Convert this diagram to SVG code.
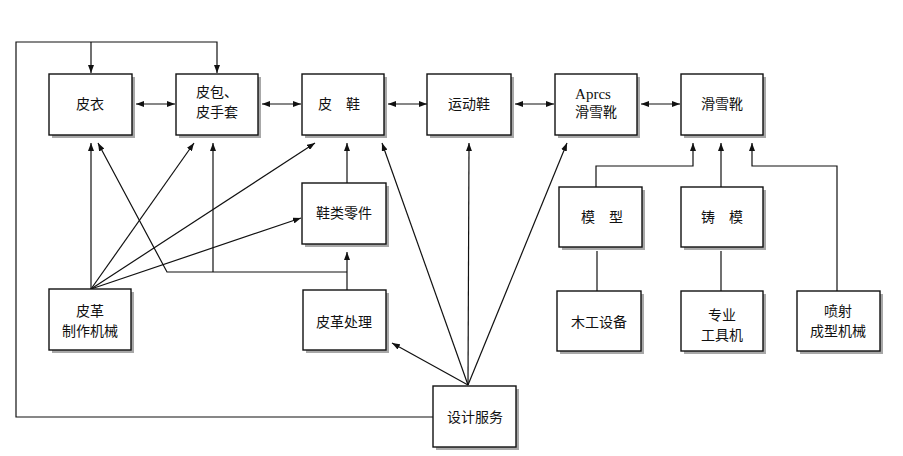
<svg xmlns="http://www.w3.org/2000/svg" width="903" height="456" viewBox="0 0 903 456">
<defs>
<marker id="ah" viewBox="0 0 8 6" refX="8" refY="3" markerWidth="8" markerHeight="6" markerUnits="userSpaceOnUse" orient="auto-start-reverse">
<path d="M0,0 L8,3 L0,6 z" fill="#111"/>
</marker>
</defs>
<style>
.sh{fill:#a8a8a8}
.bx{fill:#fff;stroke:#111;stroke-width:1.4}
.t{font-family:"Noto Sans CJK SC","Noto Sans",sans-serif;font-size:14px;fill:#111;text-anchor:middle}
.lt{font-family:"Liberation Serif","Noto Sans CJK SC",serif;font-size:15px;fill:#111;text-anchor:middle}
.c{fill:none;stroke:#111;stroke-width:1.2}
.a{marker-end:url(#ah)}
.d{marker-start:url(#ah);marker-end:url(#ah)}
</style>
<rect width="903" height="456" fill="#fff"/>
<g id="connectors">
<line class="c d" x1="136" y1="104" x2="175" y2="104"/>
<line class="c d" x1="262" y1="104" x2="301" y2="104"/>
<line class="c d" x1="388" y1="104" x2="427" y2="104"/>
<line class="c d" x1="515" y1="104" x2="554" y2="104"/>
<line class="c d" x1="641" y1="104" x2="680" y2="104"/>
<polyline class="c a" points="433,417 16,417 16,42 217,42 217,73"/>
<line class="c a" x1="91" y1="42" x2="91" y2="73"/>
<line class="c a" x1="91" y1="289" x2="91" y2="143"/>
<line class="c a" x1="91" y1="289" x2="194" y2="143"/>
<line class="c a" x1="91" y1="289" x2="315" y2="143"/>
<line class="c a" x1="91" y1="289" x2="301" y2="218"/>
<line class="c a" x1="347" y1="290" x2="347" y2="252"/>
<polyline class="c a" points="347,272 167,272 98,143"/>
<line class="c a" x1="213" y1="272" x2="213" y2="143"/>
<line class="c a" x1="347" y1="183" x2="347" y2="143"/>
<line class="c a" x1="468" y1="385" x2="392" y2="343"/>
<line class="c a" x1="468" y1="385" x2="382" y2="143"/>
<line class="c a" x1="468" y1="385" x2="469" y2="143"/>
<line class="c a" x1="468" y1="385" x2="567" y2="143"/>
<polyline class="c a" points="596,187 596,166 693,166 693,143"/>
<line class="c a" x1="721" y1="187" x2="721" y2="143"/>
<polyline class="c a" points="837,291 837,166 752,166 752,143"/>
<line class="c" x1="597" y1="251" x2="597" y2="291"/>
<line class="c" x1="721" y1="251" x2="721" y2="291"/>
</g>
<g id="n-piyi"><rect class="sh" x="52" y="77" width="83" height="61"/><rect class="bx" x="49" y="74" width="83" height="61"/><text class="t" x="90" y="109">皮衣</text></g>
<g id="n-pibao"><rect class="sh" x="179" y="77" width="82" height="61"/><rect class="bx" x="176" y="74" width="82" height="61"/><text class="t" x="217" y="97">皮包、</text><text class="t" x="217" y="117">皮手套</text></g>
<g id="n-pixie"><rect class="sh" x="305" y="77" width="82" height="61"/><rect class="bx" x="302" y="74" width="82" height="61"/><text class="t" x="339" y="109">皮　鞋</text></g>
<g id="n-yundongxie"><rect class="sh" x="430" y="77" width="84" height="61"/><rect class="bx" x="427" y="74" width="84" height="61"/><text class="t" x="469" y="109">运动鞋</text></g>
<g id="n-aprcs"><rect class="sh" x="558" y="77" width="82" height="61"/><rect class="bx" x="555" y="74" width="82" height="61"/><text class="lt" x="593" y="99">Aprcs</text><text class="t" x="596" y="117">滑雪靴</text></g>
<g id="n-huaxuexue"><rect class="sh" x="684" y="77" width="82" height="61"/><rect class="bx" x="681" y="74" width="82" height="61"/><text class="t" x="722" y="109">滑雪靴</text></g>
<g id="n-xieleilingjian"><rect class="sh" x="305" y="186" width="84" height="61"/><rect class="bx" x="302" y="183" width="84" height="61"/><text class="t" x="344" y="218">鞋类零件</text></g>
<g id="n-moxing"><rect class="sh" x="562" y="190" width="83" height="60"/><rect class="bx" x="559" y="187" width="83" height="60"/><text class="t" x="602" y="222">模　型</text></g>
<g id="n-zhumo"><rect class="sh" x="684" y="190" width="82" height="60"/><rect class="bx" x="681" y="187" width="82" height="60"/><text class="t" x="722" y="222">铸　模</text></g>
<g id="n-zhizuojixie"><rect class="sh" x="52" y="292" width="82" height="61"/><rect class="bx" x="49" y="289" width="82" height="61"/><text class="t" x="90" y="316">皮革</text><text class="t" x="90" y="336">制作机械</text></g>
<g id="n-pigechuli"><rect class="sh" x="306" y="293" width="83" height="60"/><rect class="bx" x="303" y="290" width="83" height="60"/><text class="t" x="344" y="327">皮革处理</text></g>
<g id="n-mugong"><rect class="sh" x="560" y="294" width="84" height="60"/><rect class="bx" x="557" y="291" width="84" height="60"/><text class="t" x="599" y="327">木工设备</text></g>
<g id="n-zhuanye"><rect class="sh" x="684" y="294" width="82" height="60"/><rect class="bx" x="681" y="291" width="82" height="60"/><text class="t" x="722" y="320">专业</text><text class="t" x="722" y="340">工具机</text></g>
<g id="n-penshe"><rect class="sh" x="800" y="294" width="83" height="60"/><rect class="bx" x="797" y="291" width="83" height="60"/><text class="t" x="838" y="316">喷射</text><text class="t" x="838" y="336">成型机械</text></g>
<g id="n-sheji"><rect class="sh" x="436" y="389" width="83" height="61"/><rect class="bx" x="433" y="386" width="83" height="61"/><text class="t" x="475" y="422">设计服务</text></g>
</svg>
